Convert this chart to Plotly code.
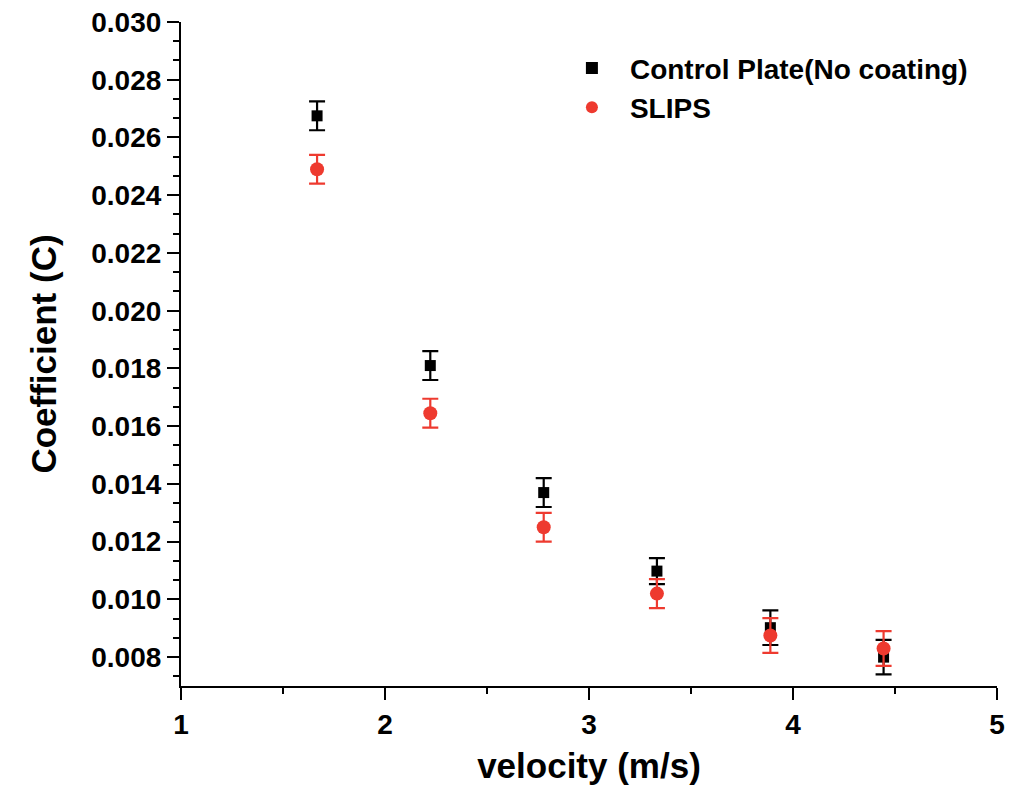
import plotly.graph_objects as go

velocity = [1.667, 2.222, 2.778, 3.333, 3.889, 4.444]
control = [0.02675, 0.0181, 0.0137, 0.01098, 0.00902, 0.0080]
control_err = [0.0005, 0.0005, 0.0005, 0.00045, 0.0006, 0.0006]
slips = [0.0249, 0.01645, 0.0125, 0.0102, 0.00875, 0.0083]
slips_err = [0.0005, 0.0005, 0.0005, 0.0005, 0.0006, 0.0006]

y_ticks = [0.008, 0.010, 0.012, 0.014, 0.016, 0.018, 0.020, 0.022, 0.024, 0.026, 0.028, 0.030]
y_labels = ["0.008", "0.010", "0.012", "0.014", "0.016", "0.018", "0.020", "0.022", "0.024", "0.026", "0.028", "0.030"]
x_ticks = [1, 2, 3, 4, 5]
x_labels = ["1", "2", "3", "4", "5"]

FONT = "Liberation Sans"
RED = "#ee3a2f"

fig = go.Figure()
fig.add_trace(go.Scatter(
    x=velocity, y=control, mode="markers", name="Control Plate(No coating)",
    marker=dict(symbol="square", size=11, color="black"),
    error_y=dict(type="data", array=control_err, color="black", thickness=2.2, width=8),
))
fig.add_trace(go.Scatter(
    x=velocity, y=slips, mode="markers", name="SLIPS",
    marker=dict(symbol="circle", size=14, color=RED),
    error_y=dict(type="data", array=slips_err, color=RED, thickness=2.2, width=8),
))

W, H = 1010, 777
fig.update_layout(
    width=W, height=H,
    paper_bgcolor="white", plot_bgcolor="white",
    margin=dict(l=173, r=W + 8 - 997, t=14, b=H + 8 - 686, autoexpand=False),
    font=dict(family=FONT, color="black"),
    legend=dict(x=0.457, y=0.968, xanchor="left", yanchor="top",
                font=dict(family=FONT, size=28, color="black", weight="bold"),
                bgcolor="rgba(0,0,0,0)", itemsizing="constant", itemwidth=66, tracegroupgap=0),
    showlegend=True,
)
fig.update_xaxes(
    range=[1, 5], tickmode="array", tickvals=x_ticks, ticktext=x_labels,
    showline=True, linecolor="black", linewidth=2.2, mirror=False,
    ticks="outside", ticklen=12, tickwidth=2.2, tickcolor="black",
    minor=dict(dtick=0.5, ticks="outside", ticklen=6, tickwidth=2.2, tickcolor="black"),
    showgrid=False, zeroline=False, automargin=False, ticklabeloverflow="allow",
    tickfont=dict(family=FONT, size=28, color="black", weight="bold"),
    title=dict(text="velocity (m/s)", font=dict(family=FONT, size=35, color="black", weight="bold"), standoff=30),
)
fig.update_yaxes(
    range=[0.007, 0.030], tickmode="array", tickvals=y_ticks, ticktext=y_labels,
    showline=True, linecolor="black", linewidth=2.2, mirror=False,
    ticks="outside", ticklen=12, tickwidth=2.2, tickcolor="black",
    minor=dict(tick0=0.008, dtick=0.002 / 3, ticks="outside", ticklen=6, tickwidth=2.2, tickcolor="black"),
    showgrid=False, zeroline=False, automargin=False, ticklabeloverflow="allow",
    tickfont=dict(family=FONT, size=28, color="black", weight="bold"),
    title=dict(text="Coefficient (C)", font=dict(family=FONT, size=35, color="black", weight="bold"), standoff=24),
)

fig.write_html("out.html")
